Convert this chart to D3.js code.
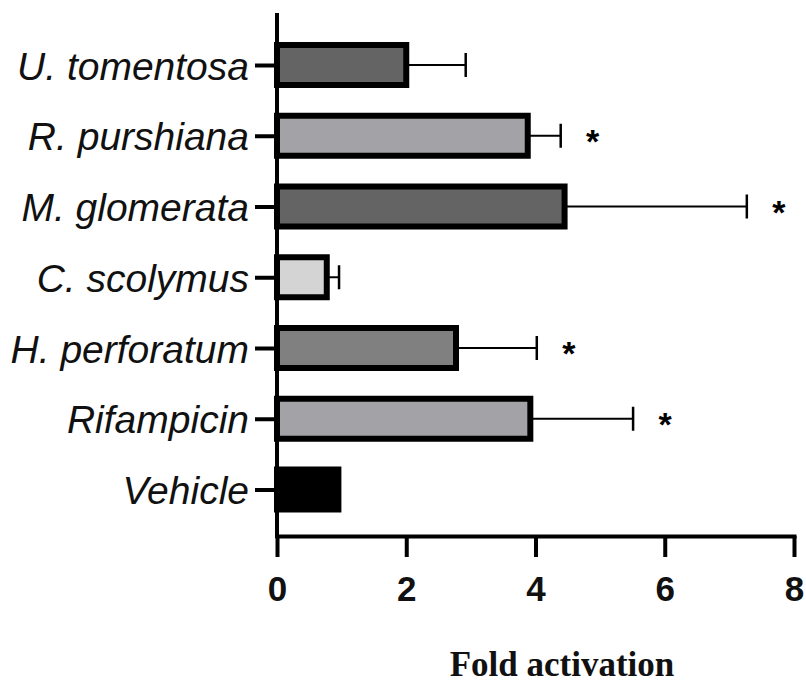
<!DOCTYPE html>
<html>
<head>
<meta charset="utf-8">
<script src="https://cdn.jsdelivr.net/npm/d3@7/dist/d3.min.js"></script>
<style>
  html, body { margin: 0; padding: 0; background: #fff; }
  svg { display: block; }
</style>
</head>
<body>
<svg id="chart" width="806" height="684"></svg>
<script>
// Treatments, listed top to bottom
const categories = ["U. tomentosa", "R. purshiana", "M. glomerata", "C. scolymus", "H. perforatum", "Rifampicin", "Vehicle"];
// Mean fold activation and error (SD) per treatment
const means  = [2.0, 3.88, 4.45, 0.77, 2.77, 3.92, 0.95];
const errors = [0.92, 0.51, 2.82, 0.19, 1.25, 1.59, 0];
// Statistically significant vs vehicle
const significant = [false, true, true, false, true, true, false];
// Bar fills
const fills = ["#646464", "#a3a2a7", "#646464", "#d4d4d4", "#808080", "#a3a2a7", "#000000"];
// x-axis ticks
const xTicks = [0, 2, 4, 6, 8];

const svg = d3.select("#chart");

const x = d3.scaleLinear().domain([0, 8]).range([277, 794]);
const y = d3.scalePoint().domain(categories).range([65, 489.5]);

const barH = 40;
const data = categories.map((c, i) => ({ c, m: means[i], e: errors[i], s: significant[i], f: fills[i] }));

// Error bars (drawn first so bars sit on top)
const eg = svg.append("g");
data.filter(d => d.e > 0).forEach(d => {
  eg.append("line")
    .attr("x1", x(d.m)).attr("x2", x(d.m + d.e))
    .attr("y1", y(d.c)).attr("y2", y(d.c))
    .attr("stroke", "#000").attr("stroke-width", 2);
  eg.append("line")
    .attr("x1", x(d.m + d.e)).attr("x2", x(d.m + d.e))
    .attr("y1", y(d.c) - 12).attr("y2", y(d.c) + 12)
    .attr("stroke", "#000").attr("stroke-width", 2.5);
});

// Bars
svg.append("g").selectAll("rect").data(data).join("rect")
  .attr("x", x(0))
  .attr("y", d => y(d.c) - barH / 2)
  .attr("width", d => x(d.m) - x(0))
  .attr("height", barH)
  .attr("fill", d => d.f)
  .attr("stroke", "#000")
  .attr("stroke-width", 6);

// Significance asterisks
svg.append("g").selectAll("text").data(data.filter(d => d.s)).join("text")
  .attr("x", d => x(d.m + d.e) + 32)
  .attr("y", d => y(d.c) + 17)
  .attr("text-anchor", "middle")
  .attr("font-family", "Liberation Sans, Arial, sans-serif")
  .attr("font-weight", "bold")
  .attr("font-size", 34)
  .text("*");

// Y axis: category labels and ticks
const yAxis = svg.append("g")
  .attr("transform", `translate(${x(0)},0)`)
  .call(d3.axisLeft(y).tickSize(22).tickPadding(6));
yAxis.select(".domain").remove();
yAxis.selectAll(".tick line").attr("stroke", "#000").attr("stroke-width", 4);
yAxis.selectAll(".tick text")
  .attr("font-family", "Liberation Sans, Arial, sans-serif")
  .attr("font-style", "italic")
  .attr("font-size", 39)
  .attr("fill", "#111")
  .attr("dy", "0.36em");

// Vertical axis line
svg.append("line")
  .attr("x1", x(0)).attr("x2", x(0))
  .attr("y1", 13).attr("y2", 538)
  .attr("stroke", "#000").attr("stroke-width", 4);

// X axis
const xAxis = svg.append("g")
  .attr("transform", "translate(0,536)")
  .call(d3.axisBottom(x).tickValues(xTicks).tickSize(21).tickSizeOuter(0).tickPadding(19).tickFormat(d3.format("d")));
xAxis.select(".domain").attr("stroke", "#000").attr("stroke-width", 4).attr("stroke-linecap", "square");
xAxis.selectAll(".tick line").attr("stroke", "#000").attr("stroke-width", 4);
xAxis.selectAll(".tick text")
  .attr("font-family", "Liberation Sans, Arial, sans-serif")
  .attr("font-weight", "bold")
  .attr("font-size", 35)
  .attr("fill", "#111");

// Axis title
svg.append("text")
  .attr("x", 562)
  .attr("y", 676)
  .attr("text-anchor", "middle")
  .attr("font-family", "Liberation Serif, Times New Roman, serif")
  .attr("font-weight", "bold")
  .attr("font-size", 35)
  .attr("fill", "#111")
  .text("Fold activation");
</script>
</body>
</html>
